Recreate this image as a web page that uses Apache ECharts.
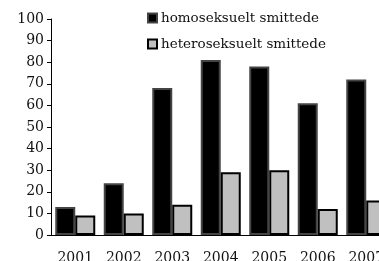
<!DOCTYPE html>
<html>
<head>
<meta charset="utf-8">
<script src="https://cdn.jsdelivr.net/npm/echarts@6/dist/echarts.min.js"></script>
<style>
  html, body { margin: 0; padding: 0; background: #fff; }
  #chart { width: 379px; height: 261px; }
</style>
</head>
<body>
<div id="chart"></div>
<script>
var years = ["2001", "2002", "2003", "2004", "2005", "2006", "2007"];
var homoData = [13, 24, 68, 81, 78, 61, 72];
var heteroData = [9, 10, 14, 29, 30, 12, 16];
var seriesNames = ["homoseksuelt smittede", "heteroseksuelt smittede"];

var myChart = echarts.init(document.getElementById("chart"));
var font = "DejaVu Serif";
var option = {
  animation: false,
  textStyle: { fontFamily: font },
  legend: {
    orient: "vertical",
    left: 142,
    top: 6,
    itemWidth: 9,
    itemHeight: 9,
    itemGap: 12,
    icon: "rect",
    textStyle: { fontFamily: font, fontSize: 13.5, color: "#111", padding: [0, 0, 0, -1] },
    data: seriesNames,
  },
  grid: {
    left: 51,
    top: 19,
    width: 339.5, // the last category runs past the right edge, as in the original
    bottom: 26,
    containLabel: false,
    outerBoundsMode: "none",
  },
  xAxis: {
    type: "category",
    data: years,
    axisLine: { lineStyle: { color: "#000", width: 1 } },
    axisTick: { length: 5, lineStyle: { color: "#000" } },
    axisLabel: { fontFamily: font, fontSize: 14, color: "#111", margin: 16 },
  },
  yAxis: {
    type: "value",
    min: 0,
    max: 100,
    interval: 10,
    splitLine: { show: false },
    axisLine: { show: true, lineStyle: { color: "#000", width: 1 } },
    axisTick: { show: true, length: 4, lineStyle: { color: "#000" } },
    axisLabel: { fontFamily: font, fontSize: 14, color: "#111", margin: 7 },
  },
  series: [
    {
      name: seriesNames[0],
      type: "bar",
      data: homoData,
      barWidth: 20,
      barGap: "0%",
      itemStyle: { color: "#000", borderColor: "#444", borderWidth: 2 },
    },
    {
      name: seriesNames[1],
      type: "bar",
      data: heteroData,
      barWidth: 20,
      itemStyle: { color: "#c0c0c0", borderColor: "#000", borderWidth: 2 },
    },
  ],
};
myChart.setOption(option);
</script>
</body>
</html>
